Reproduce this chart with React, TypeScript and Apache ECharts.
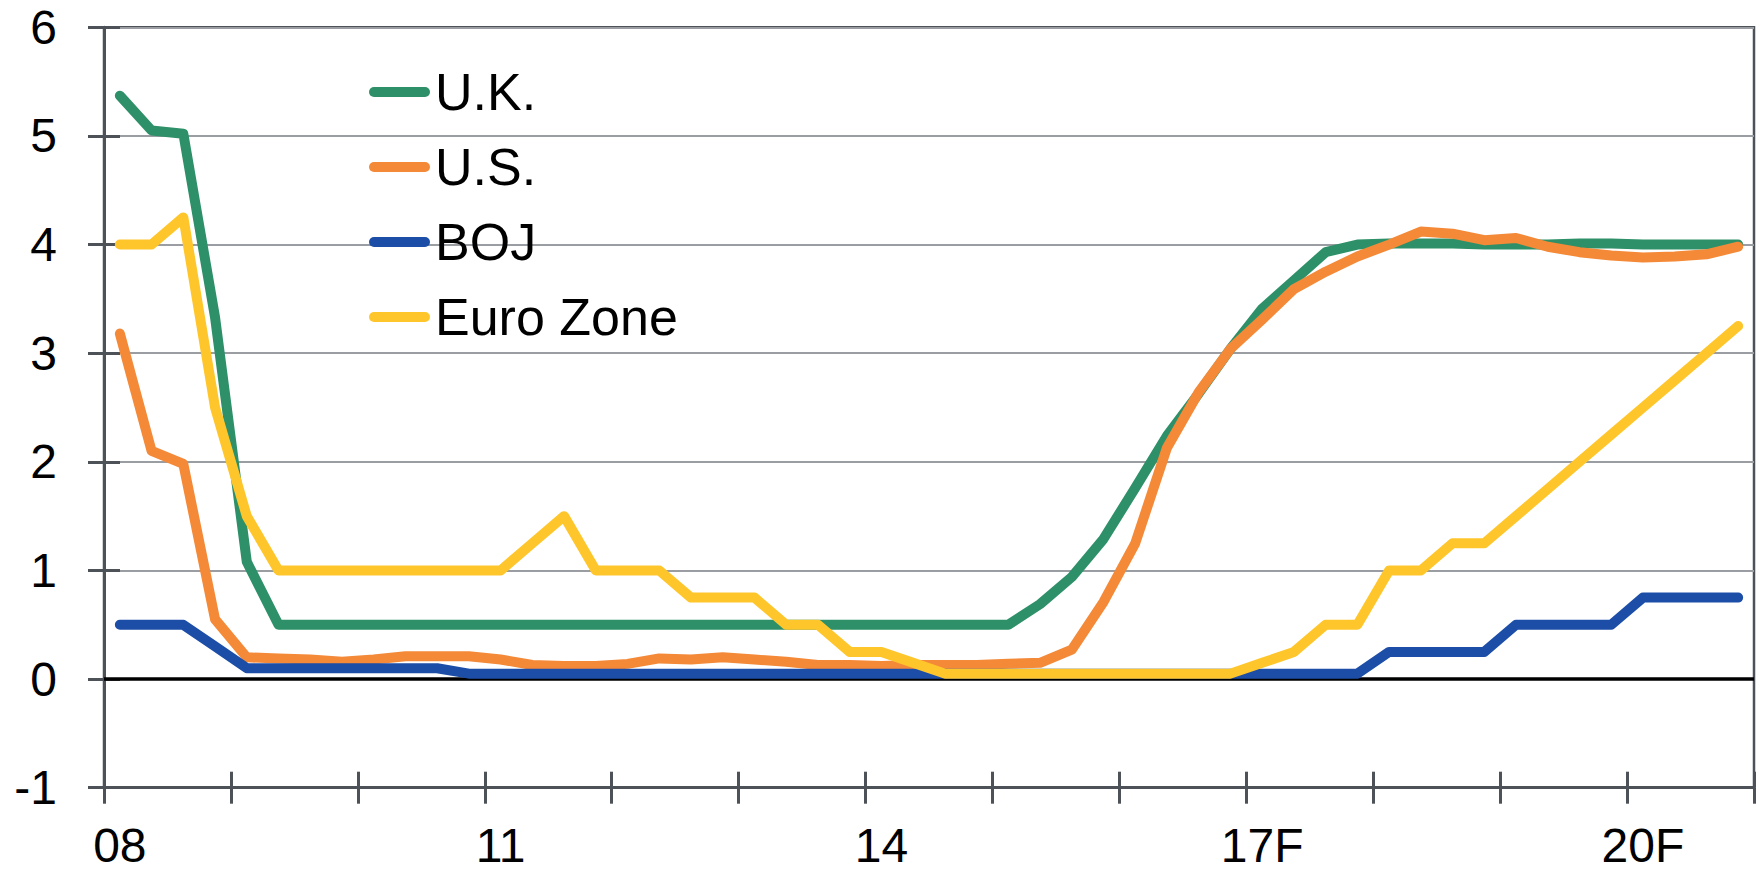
import React, { useEffect, useRef } from "react";
import * as echarts from "echarts";

const FONT = "'Liberation Sans', Arial, Helvetica, sans-serif";

const years = ["08", "09", "10", "11", "12", "13", "14", "15", "16", "17", "18", "19", "20"];
const quarters = ["Q1", "Q2", "Q3", "Q4"];
const tickLabels: Record<string, string> = { "08": "08", "11": "11", "14": "14", "17": "17F", "20": "20F" };
const categories = years.flatMap((y) => quarters.map((q) => y + q));

const seriesNames = ["U.K.", "U.S.", "BOJ", "Euro Zone"];
const seriesColors = ["#2E9068", "#F48938", "#1C4EA8", "#FFC62C"];

const ukRate = [
  5.37, 5.05, 5.02, 3.33, 1.08,
  0.5, 0.5, 0.5, 0.5, 0.5, 0.5, 0.5, 0.5, 0.5, 0.5, 0.5, 0.5,
  0.5, 0.5, 0.5, 0.5, 0.5, 0.5, 0.5, 0.5, 0.5, 0.5, 0.5, 0.5,
  0.69, 0.94, 1.29, 1.76, 2.24, 2.63, 3.04, 3.41, 3.67, 3.93, 4.0,
  4.01, 4.01, 4.01, 4.0, 4.0, 4.0, 4.01, 4.01, 4.0, 4.0, 4.0, 4.0,
];

const usRate = [
  3.18, 2.1, 1.98, 0.55, 0.2, 0.19, 0.18, 0.16, 0.18, 0.21, 0.21, 0.21,
  0.18, 0.13, 0.12, 0.12, 0.14, 0.19, 0.18, 0.2, 0.18, 0.16, 0.13, 0.13,
  0.12, 0.13, 0.13, 0.13, 0.14, 0.15, 0.27, 0.71, 1.25, 2.13, 2.64, 3.04,
  3.31, 3.59, 3.75, 3.89, 4.0, 4.12, 4.1, 4.04, 4.06, 3.98, 3.93, 3.9,
  3.88, 3.89, 3.91, 3.98,
];

const bojRate = [
  0.5, 0.5, 0.5, 0.3,
  0.1, 0.1, 0.1, 0.1, 0.1, 0.1, 0.1,
  0.05, 0.05, 0.05, 0.05, 0.05, 0.05, 0.05, 0.05, 0.05, 0.05,
  0.05, 0.05, 0.05, 0.05, 0.05, 0.05, 0.05, 0.05, 0.05, 0.05,
  0.05, 0.05, 0.05, 0.05, 0.05, 0.05, 0.05, 0.05, 0.05,
  0.25, 0.25, 0.25, 0.25,
  0.5, 0.5, 0.5, 0.5,
  0.75, 0.75, 0.75, 0.75,
];

const euroRate = [
  4.0, 4.0, 4.25, 2.5, 1.5,
  1.0, 1.0, 1.0, 1.0, 1.0, 1.0, 1.0, 1.0,
  1.25, 1.5, 1.0, 1.0, 1.0, 0.75, 0.75, 0.75, 0.5, 0.5, 0.25, 0.25, 0.15,
  0.05, 0.05, 0.05, 0.05, 0.05, 0.05, 0.05, 0.05, 0.05, 0.05,
  0.15, 0.25, 0.5, 0.5, 1.0, 1.0, 1.25, 1.25,
  1.5, 1.75, 2.0, 2.25, 2.5, 2.75, 3.0, 3.25,
];

const yTicks = { min: -1, max: 6, step: 1 };

const AXIS_COLOR = "#4d5258";
const GRID_COLOR = "#9a9da2";

export default function App() {
  const ref = useRef<HTMLDivElement>(null);

  useEffect(() => {
    if (!ref.current) return;
    const chart = echarts.init(ref.current, undefined, { renderer: "svg" });
    const dataSets = [ukRate, usRate, bojRate, euroRate];

    const tickAxisBase = {
      type: "value",
      min: 0,
      max: categories.length,
      interval: 4,
      position: "bottom",
      axisLine: { show: false, onZero: false },
      axisLabel: { show: false },
      splitLine: { show: false },
    };

    const option: any = {
      animation: false,
      textStyle: { fontFamily: FONT },
      grid: {
        left: 104,
        right: 8,
        top: 27.3,
        bottom: 87.3,
        show: true,
        borderColor: AXIS_COLOR,
        borderWidth: 2.5,
        backgroundColor: "transparent",
      },
      legend: {
        orient: "vertical",
        left: 369,
        top: 66,
        padding: 0,
        itemWidth: 61,
        itemHeight: 10,
        itemGap: 23,
        icon: "path://M5,0 L56,0 A5,5 0 0 1 56,10 L5,10 A5,5 0 0 1 5,0 Z",
        data: seriesNames,
        textStyle: { fontSize: 52, color: "#000", fontFamily: FONT, lineHeight: 52 },
        selectedMode: false,
      },
      xAxis: [
        {
          type: "category",
          data: categories,
          boundaryGap: true,
          position: "bottom",
          axisLine: { show: true, onZero: false, lineStyle: { color: AXIS_COLOR, width: 3 } },
          axisTick: { show: false },
          axisLabel: {
            interval: 11,
            fontSize: 48,
            color: "#000",
            fontFamily: FONT,
            margin: 34,
            formatter: (v: string) => tickLabels[v.slice(0, 2)] ?? "",
          },
          splitLine: { show: false },
        },
        {
          ...tickAxisBase,
          axisTick: { show: true, inside: false, length: 16, lineStyle: { color: AXIS_COLOR, width: 3 } },
        },
        {
          ...tickAxisBase,
          axisTick: { show: true, inside: true, length: 16, lineStyle: { color: AXIS_COLOR, width: 3 } },
        },
      ],
      yAxis: [
        {
          type: "value",
          min: yTicks.min,
          max: yTicks.max,
          interval: yTicks.step,
          position: "left",
          axisLine: { show: true, onZero: false, lineStyle: { color: AXIS_COLOR, width: 3 } },
          axisTick: { show: true, inside: false, length: 16, lineStyle: { color: AXIS_COLOR, width: 3 } },
          axisLabel: { fontSize: 48, color: "#000", fontFamily: FONT, margin: 47 },
          splitLine: { show: true, lineStyle: { color: GRID_COLOR, width: 2 } },
        },
        {
          type: "value",
          min: yTicks.min,
          max: yTicks.max,
          interval: yTicks.step,
          position: "left",
          axisLine: { show: false, onZero: false },
          axisTick: { show: true, inside: true, length: 16, lineStyle: { color: AXIS_COLOR, width: 3 } },
          axisLabel: { show: false },
          splitLine: { show: false },
        },
      ],
      series: dataSets.map((d, i) => ({
        name: seriesNames[i],
        type: "line",
        data: d,
        xAxisIndex: 0,
        yAxisIndex: 0,
        symbol: "none",
        showSymbol: false,
        itemStyle: { color: seriesColors[i] },
        lineStyle: { color: seriesColors[i], width: 10, cap: "round", join: "round" },
        z: 3 + i,
        markLine:
          i === 0
            ? {
                silent: true,
                symbol: "none",
                label: { show: false },
                lineStyle: { color: "#000", width: 3.5, type: "solid" },
                data: [{ yAxis: 0 }],
                z: 2,
              }
            : undefined,
      })),
    };

    chart.setOption(option);
    return () => chart.dispose();
  }, []);

  return (
    <div
      ref={ref}
      style={{ position: "fixed", left: 0, top: 0, width: 1762, height: 875, background: "#fff" }}
    />
  );
}
